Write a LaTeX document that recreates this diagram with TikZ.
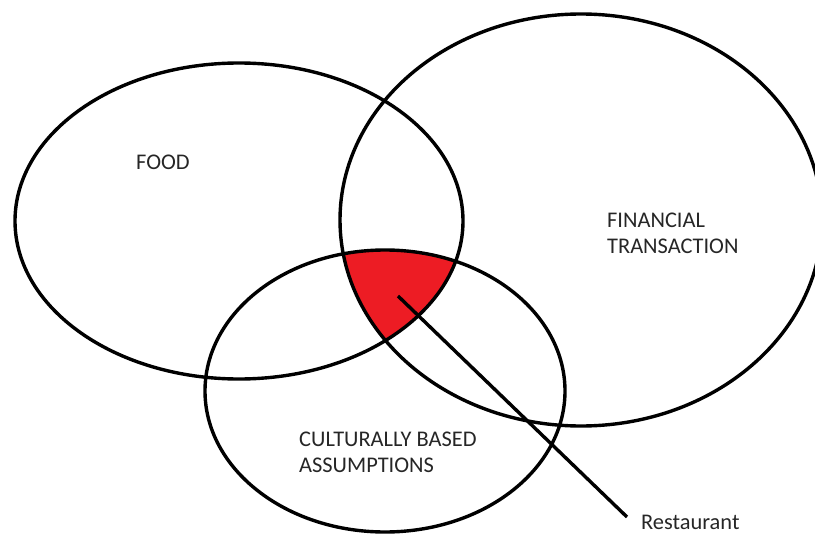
\documentclass[tikz,border=0pt]{standalone}
\usepackage{fontspec}
\setmainfont{Carlito}
\definecolor{paintred}{HTML}{ED1C24}
\begin{document}
\begin{tikzpicture}[x=1pt,y=-1pt,
  setline/.style={line width=3.4pt,black},
  lbl/.style={anchor=base west,inner sep=0pt,font=\fontsize{22.4}{26}\selectfont,align=left,text=black!85}]
\useasboundingbox (0,0) rectangle (815,535);
% the three sets
\def\foodpath{(239,221) ellipse [x radius=224,y radius=158]}
\def\finpath{(581,220) ellipse [x radius=241,y radius=206]}
\def\culpath{(385,391) ellipse [x radius=180,y radius=141]}
% common part of all three sets
\begin{scope}
  \clip \foodpath;
  \clip \finpath;
  \fill[paintred] \culpath;
\end{scope}
\draw[setline] \foodpath;
\draw[setline] \finpath;
\draw[setline] \culpath;
% labels (multi-line nodes sit on the baseline of their last line)
\node[lbl] (food) at (136,169) {FOOD};
\node[lbl] (fin) at (607,253) {FINANCIAL\\TRANSACTION};
\node[lbl] (cul) at (299,472) {CULTURALLY BASED\\ASSUMPTIONS};
\node[lbl] (rest) at (641,529) {Restaurant};
% pointer to the common part
\coordinate (tip) at (398,296);
\coordinate (tail) at (627,517);
\draw[setline] (tip) -- (tail);
\end{tikzpicture}
\end{document}
